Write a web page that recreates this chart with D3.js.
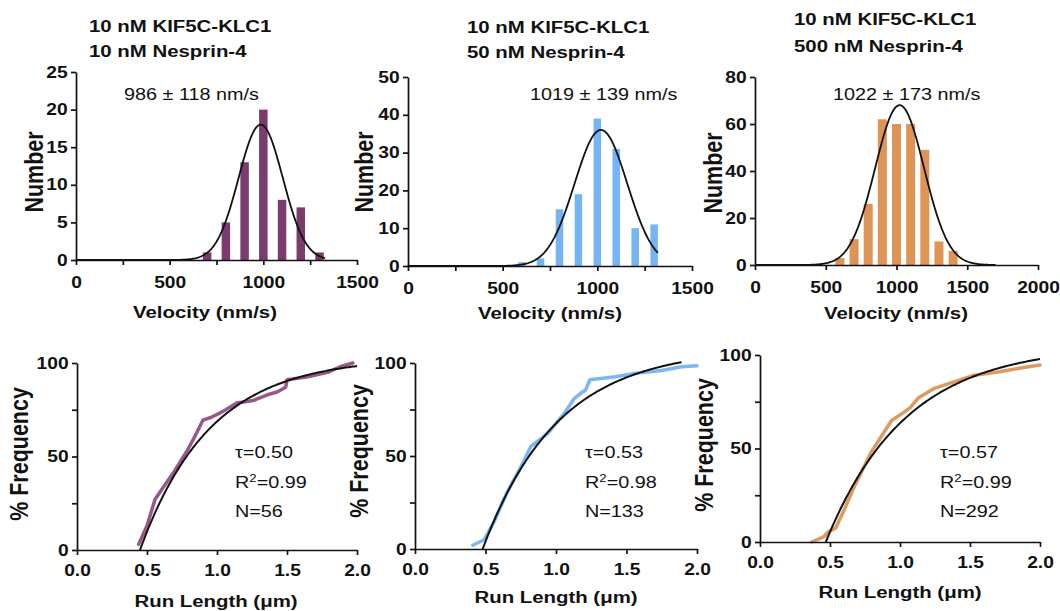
<!DOCTYPE html>
<html>
<head>
<meta charset="utf-8">
<script src="https://cdn.jsdelivr.net/npm/d3@7"></script>
<style>
  body { margin: 0; background: #fff; }
  svg { display: block; }
  text { font-family: "Liberation Sans", Arial, Helvetica, sans-serif; fill: #111; }
</style>
</head>
<body>
<svg id="chart" width="1060" height="611"></svg>
<script>
// ---- velocity histograms: bin centre (nm/s) and count ----
var velBins1 = [700, 800, 900, 1000, 1100, 1200, 1300];
var velCounts1 = [1, 5, 13, 20, 8, 7, 1];
var velBins2 = [600, 700, 800, 900, 1000, 1100, 1200, 1300];
var velCounts2 = [1, 2, 15, 19, 39, 31, 10, 11];
var velBins3 = [600, 700, 800, 900, 1000, 1100, 1200, 1300, 1400];
var velCounts3 = [3, 11, 26, 62, 60, 60, 49, 10, 6];

// gaussian fit: mean, sd, peak height, drawn from..to
var velFit1 = [986, 118, 18, 0, 1330];
var velFit2 = [1019, 139, 36, 0, 1320];
var velFit3 = [1022, 173, 68, 0, 1700];

var velText = ["986 \u00b1 118 nm/s", "1019 \u00b1 139 nm/s", "1022 \u00b1 173 nm/s"];
var titles = [
  ["10 nM KIF5C-KLC1", "10 nM Nesprin-4"],
  ["10 nM KIF5C-KLC1", "50 nM Nesprin-4"],
  ["10 nM KIF5C-KLC1", "500 nM Nesprin-4"]
];
var velXMax = [1500, 1500, 2000];
var velYMax = [25, 50, 80];
var velYStep = [5, 10, 20];
var velXStep = [250, 250, 500];

// ---- run length cumulative distributions (um, %) ----
var runLen1 = [0.44, 0.5, 0.557, 0.62, 0.686, 0.786, 0.83, 0.9, 0.96, 1.04, 1.14, 1.26, 1.36, 1.43, 1.49, 1.5, 1.64, 1.79, 1.88, 1.97];
var runPct1 = [3, 13, 27, 34, 41, 53, 59, 69.5, 71, 74, 78.6, 80, 83, 84.5, 87, 91, 92.5, 95, 98, 100];
var runLen2 = [0.41, 0.49, 0.56, 0.65, 0.75, 0.82, 0.94, 1.06, 1.13, 1.18, 1.21, 1.24, 1.41, 1.58, 1.75, 1.89, 2.0];
var runPct2 = [2, 5, 14.5, 30, 44, 55, 62, 73, 81, 84, 85.5, 91, 92.5, 94.6, 96, 98, 98.5];
var runLen3 = [0.37, 0.46, 0.48, 0.54, 0.6, 0.67, 0.79, 0.88, 0.94, 1.0, 1.07, 1.13, 1.24, 1.38, 1.52, 1.71, 1.86, 2.0];
var runPct3 = [0, 3, 5, 7.5, 17, 29, 47.5, 58, 65, 68, 71.6, 77, 82, 85.5, 89, 91, 93, 94.6];

// exponential cdf fit: x0, tau, plateau, drawn to
var runFit1 = [0.45, 0.50, 103, 2.0];
var runFit2 = [0.48, 0.53, 108, 1.89];
var runFit3 = [0.47, 0.57, 105, 2.0];
var runStats = [["0.50", "0.99", "56"], ["0.53", "0.98", "133"], ["0.57", "0.99", "292"]];

// ---- layout / style ----
var SX = 1.2;   // the reference lettering is a bit wide
var colors = ["#7b3c6d", "#74b5f5", "#de9456"];
var lineColors = ["#98598a", "#7bb8f0", "#dd9a61"];
var velBoxes = [
  {x0: 76, x1: 357, y0: 72, y1: 260, bw: 8.5, title: [89, 32, 57], note: [124, 100], ylab: [43, 172], xlab: [205, 318]},
  {x0: 408, x1: 692, y0: 77, y1: 266, bw: 7.5, title: [467, 33, 58], note: [530, 100], ylab: [373, 172], xlab: [550, 319]},
  {x0: 755, x1: 1038, y0: 77, y1: 265, bw: 9, title: [794, 25, 52], note: [833, 100], ylab: [722, 173], xlab: [896, 319]}
];
var runBoxes = [
  {x0: 77, x1: 357, y0: 363, y1: 550, note: 235, ylab: [28, 454], xlab: [216, 607]},
  {x0: 415, x1: 697, y0: 363, y1: 549, note: 585, ylab: [368, 451], xlab: [556, 603]},
  {x0: 760, x1: 1040, y0: 355, y1: 542, note: 940, ylab: [713, 445], xlab: [900, 598]}
];

var svg = d3.select("#chart");

function label(g, x, y, txt, size, weight, anchor) {
  return g.append("text")
    .attr("transform", "translate(" + x + "," + y + ") scale(" + SX + ",1)")
    .attr("font-size", size)
    .attr("font-weight", weight)
    .attr("text-anchor", anchor)
    .text(txt);
}

function ylabel(g, x, y, txt) {
  g.append("text")
    .attr("transform", "translate(" + x + "," + y + ") rotate(-90) scale(1," + SX + ")")
    .attr("font-size", 21.5)
    .attr("font-weight", "bold")
    .attr("text-anchor", "middle")
    .text(txt);
}

function axes(g, x, y, xTicks, xFmt, yTicks, yFmt, xLabY) {
  var gx = g.append("g")
    .attr("transform", "translate(0," + y.range()[0] + ")")
    .call(d3.axisBottom(x).tickValues(xTicks).tickFormat(xFmt).tickSize(5).tickSizeOuter(0));
  gx.selectAll("text").attr("y", xLabY).attr("dy", null);
  var gy = g.append("g")
    .attr("transform", "translate(" + x.range()[0] + ",0)")
    .call(d3.axisLeft(y).tickValues(yTicks).tickFormat(yFmt).tickSize(5).tickSizeOuter(0));
  gy.selectAll("text").attr("x", -7);
  [gx, gy].forEach(function(a) {
    a.attr("font-family", null).attr("font-size", null);
    a.select(".domain").attr("stroke", "#111").attr("stroke-width", 1.7);
    a.selectAll(".tick line").attr("stroke", "#111").attr("stroke-width", 1.7);
    a.selectAll(".tick text")
      .attr("font-size", 16).attr("font-weight", "bold").attr("fill", "#111")
      .attr("transform", "scale(" + SX + ",1)");
  });
}

// ---- top row: velocity histograms ----
var velBins = [velBins1, velBins2, velBins3];
var velCounts = [velCounts1, velCounts2, velCounts3];
var velFits = [velFit1, velFit2, velFit3];

velBoxes.forEach(function(b, i) {
  var g = svg.append("g");
  var x = d3.scaleLinear().domain([0, velXMax[i]]).range([b.x0, b.x1]);
  var y = d3.scaleLinear().domain([0, velYMax[i]]).range([b.y1, b.y0]);
  var data = velBins[i].map(function(v, k) { return {v: v, n: velCounts[i][k]}; });

  g.selectAll("rect").data(data).enter().append("rect")
    .attr("x", function(d) { return x(d.v) - b.bw / 2; })
    .attr("width", b.bw)
    .attr("y", function(d) { return y(d.n); })
    .attr("height", function(d) { return y(0) - y(d.n); })
    .attr("fill", colors[i]);

  var f = velFits[i];
  var pts = d3.range(f[3], f[4] + 1, 5).map(function(v) {
    return [v, f[2] * Math.exp(-Math.pow(v - f[0], 2) / (2 * f[1] * f[1]))];
  });
  g.append("path").datum(pts)
    .attr("fill", "none").attr("stroke", "#111").attr("stroke-width", 1.8)
    .attr("d", d3.line().x(function(d) { return x(d[0]); }).y(function(d) { return y(d[1]); }));

  axes(g, x, y,
    d3.range(0, velXMax[i] + 1, velXStep[i]), function(d) { return d % 500 === 0 ? d : ""; },
    d3.range(0, velYMax[i] + 1, velYStep[i]), d3.format("d"), 28);

  label(g, b.title[0], b.title[1], titles[i][0], 17, "bold", "start");
  label(g, b.title[0], b.title[2], titles[i][1], 17, "bold", "start");
  label(g, b.note[0], b.note[1], velText[i], 16.5, "normal", "start");
  label(g, b.xlab[0], b.xlab[1], "Velocity (nm/s)", 17, "bold", "middle");
  ylabel(g, b.ylab[0], b.ylab[1], "Number");
});

// ---- bottom row: run length cdfs ----
var runLens = [runLen1, runLen2, runLen3];
var runPcts = [runPct1, runPct2, runPct3];
var runFits = [runFit1, runFit2, runFit3];

runBoxes.forEach(function(b, i) {
  var g = svg.append("g");
  var x = d3.scaleLinear().domain([0, 2]).range([b.x0, b.x1]);
  var y = d3.scaleLinear().domain([0, 100]).range([b.y1, b.y0]);
  var line = d3.line().x(function(d) { return x(d[0]); }).y(function(d) { return y(d[1]); });

  var pts = runLens[i].map(function(v, k) { return [v, runPcts[i][k]]; });
  g.append("path").datum(pts)
    .attr("fill", "none").attr("stroke", lineColors[i]).attr("stroke-width", 3.5)
    .attr("stroke-linejoin", "round").attr("stroke-linecap", "round")
    .attr("d", line);

  var f = runFits[i];
  var fit = d3.range(f[0], f[3] + 0.001, 0.01).map(function(v) {
    return [v, f[2] * (1 - Math.exp(-(v - f[0]) / f[1]))];
  });
  g.append("path").datum(fit)
    .attr("fill", "none").attr("stroke", "#111").attr("stroke-width", 2)
    .attr("d", line);

  axes(g, x, y,
    [0, 0.5, 1, 1.5, 2], d3.format(".1f"),
    [0, 25, 50, 75, 100], function(d) { return d % 50 === 0 ? d : ""; }, 26);

  label(g, b.note, 458, "\u03c4=" + runStats[i][0], 16.5, "normal", "start");
  var t2 = g.append("text")
    .attr("transform", "translate(" + b.note + ",488) scale(" + SX + ",1)")
    .attr("font-size", 16.5);
  t2.append("tspan").text("R");
  t2.append("tspan").attr("font-size", 11).attr("dy", -6).text("2");
  t2.append("tspan").attr("dy", 6).text("=" + runStats[i][1]);
  label(g, b.note, 517, "N=" + runStats[i][2], 16.5, "normal", "start");

  label(g, b.xlab[0], b.xlab[1], "Run Length (\u03bcm)", 17, "bold", "middle");
  ylabel(g, b.ylab[0], b.ylab[1], "% Frequency");
});
</script>
</body>
</html>
